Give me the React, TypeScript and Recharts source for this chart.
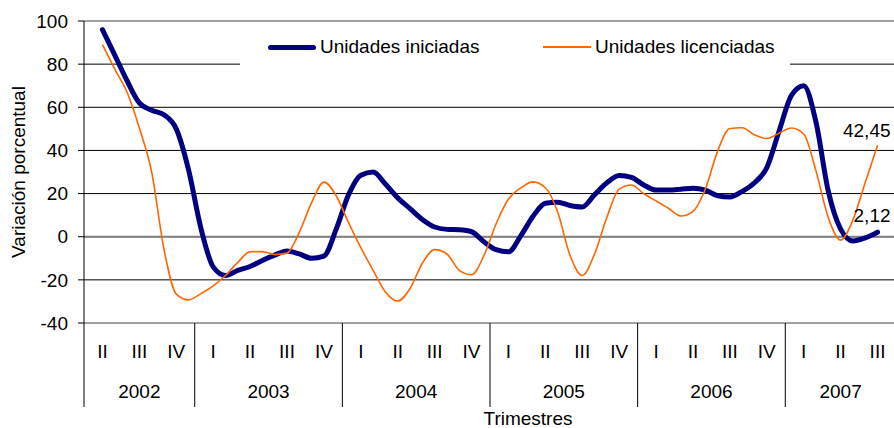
import React from 'react';
import { LineChart, Line, XAxis, YAxis, CartesianGrid, ReferenceLine, LabelList, Label } from 'recharts';

const quarterLabels = ['II', 'III', 'IV', 'I', 'II', 'III', 'IV', 'I', 'II', 'III', 'IV', 'I', 'II', 'III', 'IV', 'I', 'II', 'III', 'IV', 'I', 'II', 'III'];
const years = ['2002', '2003', '2004', '2005', '2006', '2007'];
const quartersPerYear = [3, 4, 4, 4, 4, 3];

// monthly values (3 per quarter), Q II 2002 .. Q III 2007
const iniciadas = [96, 84.2, 72.3, 62, 58.6, 56.5, 50, 31, 4, -14, -18, -15.6, -13.8, -11, -8.5, -6.6, -8, -10, -9, 3.5, 19.4, 28.5, 30, 24.4, 18, 13, 8, 4.5, 3.4, 3.2, 2.3, -2.3, -6, -7, 0.4, 9.5, 15.5, 16, 14.5, 13.8, 19.5, 25, 28.4, 27.5, 24, 21.6, 21.6, 22, 22.5, 21.6, 19, 18.4, 21, 25, 32, 49, 65.5, 70, 53, 21, 3.5, -2, -0.5, 2.12];
const licenciadas = [89, 77.7, 67, 50.4, 30, -5.8, -26.6, -29.3, -26.4, -22.8, -18, -11.9, -7, -6.9, -8.3, -7.6, 2, 15.8, 25.3, 19, 6.5, -5.1, -15.6, -25.6, -29.8, -24, -12.3, -6, -8, -15.6, -17.6, -8.9, 6, 17.5, 22.6, 25.4, 22.7, 11.5, -8.6, -18, -8, 9, 22.1, 24, 19.9, 16.6, 13.2, 9.6, 11.8, 22, 39.7, 50.2, 50.5, 47.2, 45.5, 48, 50.4, 47.6, 30.4, 8.8, -1.6, 7.8, 25.1, 42.45];

const yTicks = [-40, -20, 0, 20, 40, 60, 80, 100];
const seriesKeys = ['iniciadas', 'licenciadas'];
const seriesNames = ['Unidades iniciadas', 'Unidades licenciadas'];
const seriesColors = ['#000080', '#FF6600'];
const seriesWidths = [5, 1.6];

const stepsPerQuarter = 3;
const data = iniciadas.map((v, k) => ({ t: k / stepsPerQuarter, iniciadas: v, licenciadas: licenciadas[k] }));

const boundaries: number[] = [-0.5];
const yearCenters: number[] = [];
let acc = -0.5;
quartersPerYear.forEach((n) => {
  yearCenters.push(acc + n / 2);
  acc += n;
  boundaries.push(acc);
});
const xTicks = Array.from(new Set([...quarterLabels.map((_, i) => i), ...boundaries, ...yearCenters])).sort((a, b) => a - b);

const FONT = '"Liberation Sans", Arial, sans-serif';
const near = (a: number, b: number) => Math.abs(a - b) < 1e-6;
const fmt = (v: number) => v.toFixed(2).replace('.', ',');

const CategoryTick = (props: any) => {
  const { x, y, payload } = props;
  const v = payload.value as number;
  const els: any[] = [];
  if (Number.isInteger(v) && v >= 0 && v < quarterLabels.length) {
    els.push(
      <text key="q" x={x} y={y + 35} textAnchor="middle" fontSize={19} fill="#000" fontFamily={FONT}>
        {quarterLabels[v]}
      </text>
    );
  }
  const yi = yearCenters.findIndex((c) => near(c, v));
  if (yi >= 0) {
    els.push(
      <text key="y" x={x} y={y + 75} textAnchor="middle" fontSize={19} fill="#000" fontFamily={FONT}>
        {years[yi]}
      </text>
    );
  }
  if (boundaries.some((b) => near(b, v))) {
    els.push(<line key="s" x1={x} x2={x} y1={y} y2={y + 84} stroke="#000" strokeWidth={1} />);
  }
  return <g>{els}</g>;
};

const lastLabel = (dy: number) => (p: any) => {
  if (p.index !== data.length - 1) return null;
  return (
    <text x={p.x + 13} y={p.y - dy} textAnchor="end" fontSize={19} fill="#000" fontFamily={FONT}>
      {fmt(Number(p.value))}
    </text>
  );
};

export default function App() {
  return (
    <div
      style={{
        position: 'absolute',
        left: 0,
        top: 0,
        width: 894,
        height: 428,
        overflow: 'hidden',
        background: '#fff',
        fontFamily: FONT,
      }}
    >
      <LineChart width={910} height={428} data={data} margin={{ top: 21, right: 14, left: 0, bottom: 0 }}>
        <CartesianGrid horizontal vertical={false} stroke="#000" strokeWidth={1} />
        <ReferenceLine y={100} stroke="#a0a0a0" strokeWidth={2} />
        <ReferenceLine y={0} stroke="#808080" strokeWidth={2} />
        <XAxis
          dataKey="t"
          type="number"
          domain={[-0.5, quarterLabels.length - 0.5]}
          ticks={xTicks}
          interval={0}
          tick={<CategoryTick />}
          tickLine={false}
          tickSize={0}
          tickMargin={0}
          height={105}
          axisLine={{ stroke: '#a0a0a0', strokeWidth: 2 }}
        >
          <Label
            content={(p: any) => {
              const vb = p.viewBox;
              return (
                <text x={vb.x + vb.width / 2 + 38} y={vb.y + vb.height - 3} textAnchor="middle" fontSize={19} fill="#000" fontFamily={FONT}>
                  Trimestres
                </text>
              );
            }}
          />
        </XAxis>
        <YAxis
          type="number"
          domain={[-40, 100]}
          ticks={yTicks}
          interval={0}
          width={84}
          tickSize={6}
          tickMargin={10}
          axisLine={{ stroke: '#000' }}
          tickLine={{ stroke: '#000' }}
          tick={{ fontSize: 19, fill: '#000', fontFamily: FONT }}
        >
          <Label
            content={(p: any) => {
              const vb = p.viewBox;
              const cy = vb.y + vb.height / 2;
              return (
                <text
                  x={18}
                  y={cy}
                  transform={`rotate(-90, 18, ${cy})`}
                  textAnchor="middle"
                  dominantBaseline="central"
                  fontSize={19}
                  fill="#000"
                  fontFamily={FONT}
                >
                  Variación porcentual
                </text>
              );
            }}
          />
        </YAxis>
        <Line
          dataKey={seriesKeys[0]}
          name={seriesNames[0]}
          type="monotone"
          stroke={seriesColors[0]}
          strokeWidth={seriesWidths[0]}
          strokeLinejoin="round"
          strokeLinecap="round"
          dot={false}
          activeDot={false}
          isAnimationActive={false}
        >
          <LabelList dataKey={seriesKeys[0]} content={lastLabel(10)} />
        </Line>
        <Line
          dataKey={seriesKeys[1]}
          name={seriesNames[1]}
          type="monotone"
          stroke={seriesColors[1]}
          strokeWidth={seriesWidths[1]}
          strokeLinejoin="round"
          dot={false}
          activeDot={false}
          isAnimationActive={false}
        >
          <LabelList dataKey={seriesKeys[1]} content={lastLabel(8)} />
        </Line>
      </LineChart>
      <div
        style={{
          position: 'absolute',
          left: 240,
          top: 26,
          width: 550,
          height: 44,
          background: '#fff',
        }}
      >
        {seriesNames.map((name, i) => (
          <div
            key={name}
            style={{
              position: 'absolute',
              left: i === 0 ? 28 : 303,
              top: 21,
              transform: 'translateY(-50%)',
              display: 'flex',
              alignItems: 'center',
              whiteSpace: 'nowrap',
            }}
          >
            <div style={{ width: 48, height: seriesWidths[i], background: seriesColors[i], borderRadius: i === 0 ? 3 : 0 }} />
            <span style={{ fontSize: 19, color: '#000', marginLeft: 4, lineHeight: '22px' }}>{name}</span>
          </div>
        ))}
      </div>
    </div>
  );
}
